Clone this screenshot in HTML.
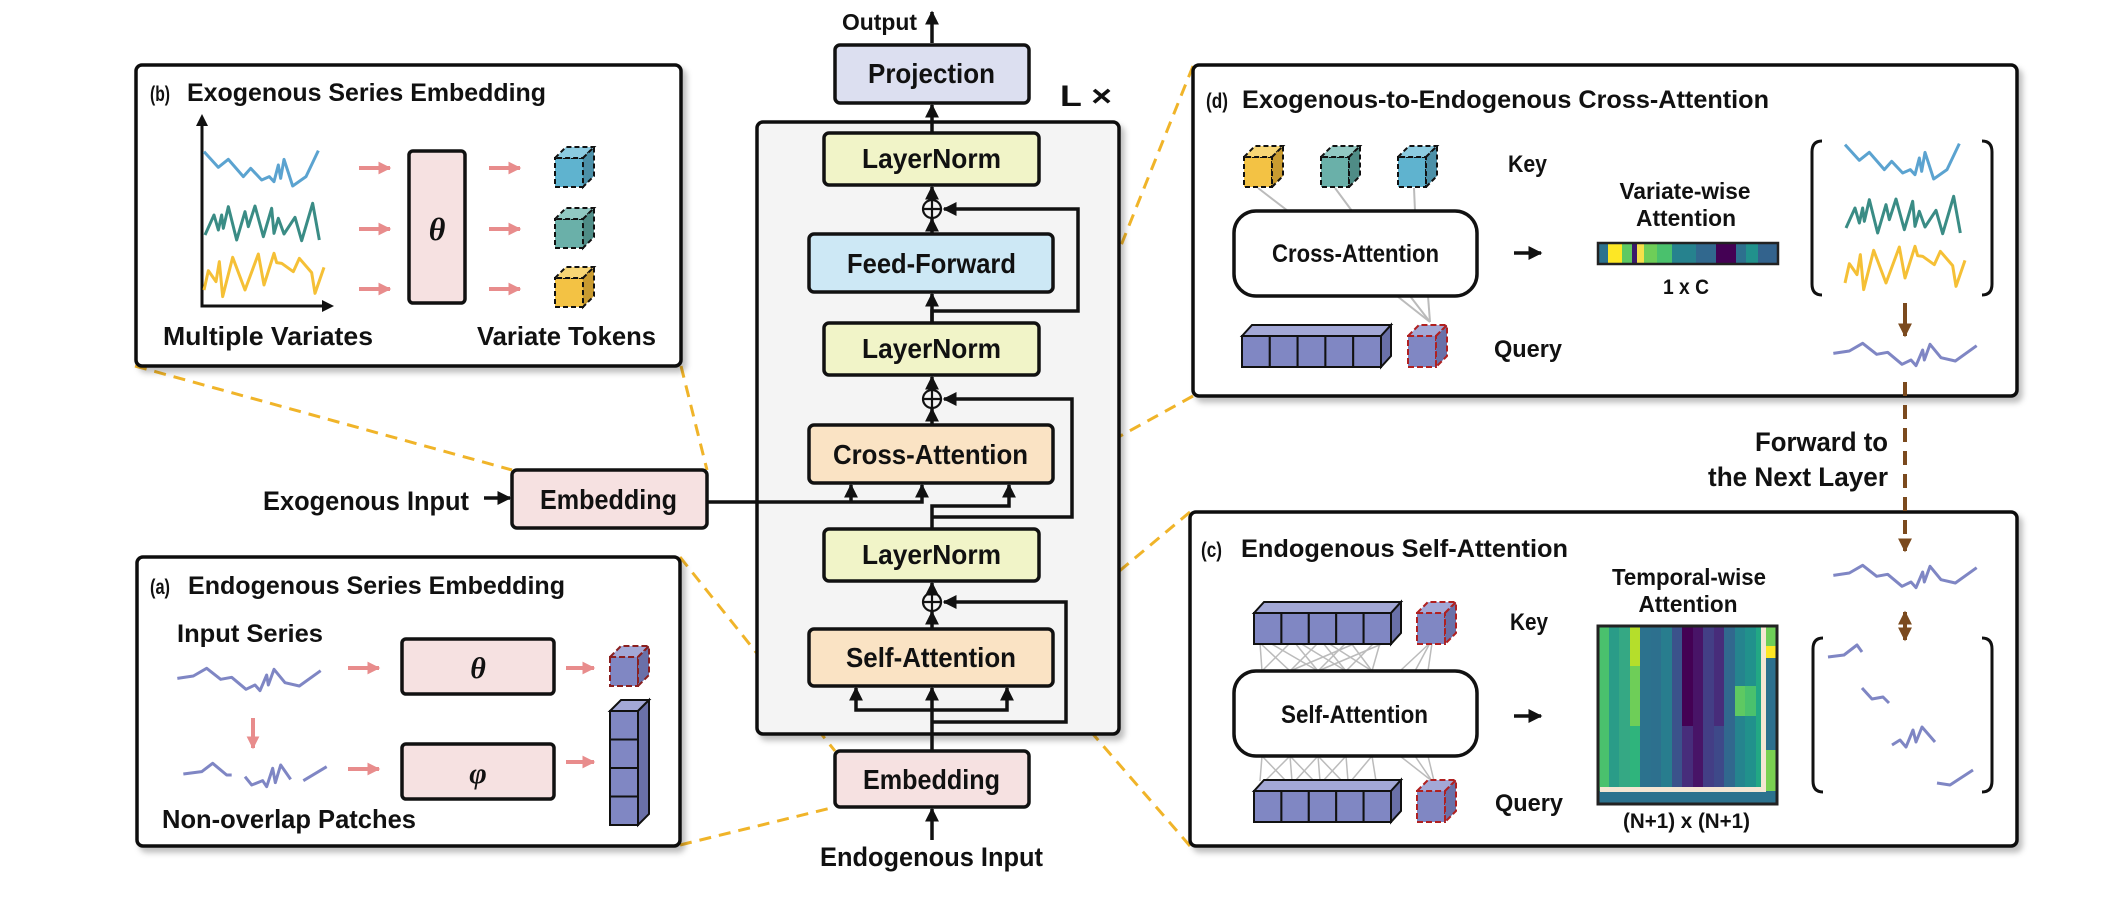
<!DOCTYPE html>
<html><head><meta charset="utf-8"><style>
html,body{margin:0;padding:0;background:#fff;}
svg{display:block;}
text{font-family:"Liberation Sans",sans-serif;font-weight:bold;fill:#111;}
</style></head><body>
<svg width="2122" height="900" viewBox="0 0 2122 900" xmlns="http://www.w3.org/2000/svg">
<defs>
<marker id="ah" viewBox="0 0 10 10" refX="9" refY="5" markerWidth="4" markerHeight="4" orient="auto-start-reverse"><path d="M0,0 L10,5 L0,10 z" fill="#111"/></marker>
<marker id="ahp" viewBox="0 0 10 10" refX="9" refY="5" markerWidth="3.2" markerHeight="3.2" orient="auto"><path d="M0,0 L10,5 L0,10 z" fill="#e88c8c"/></marker>
<marker id="ahb" viewBox="0 0 10 10" refX="9" refY="5" markerWidth="3.5" markerHeight="3.5" orient="auto-start-reverse"><path d="M0,0 L10,5 L0,10 z" fill="#7b4a1e"/></marker>
<filter id="sh" x="-5%" y="-5%" width="112%" height="115%"><feDropShadow dx="4" dy="5" stdDeviation="3" flood-color="#000" flood-opacity="0.25"/></filter>
</defs>

<!-- yellow dashed zoom lines -->
<g stroke="#f0b429" stroke-width="3" stroke-dasharray="12 8" fill="none">
<line x1="135" y1="366" x2="512" y2="470"/>
<line x1="681" y1="366" x2="707" y2="470"/>
<line x1="680" y1="557" x2="835" y2="751"/>
<line x1="680" y1="845" x2="835" y2="807"/>
<line x1="1193" y1="66" x2="1049" y2="425"/>
<line x1="1193" y1="396" x2="1053" y2="473"/>
<line x1="1190" y1="512" x2="1050" y2="629"/>
<line x1="1190" y1="846" x2="1053" y2="688"/>
</g>

<!-- Panels -->
<g filter="url(#sh)" fill="#fff" stroke="#111" stroke-width="3.5">
<rect x="136" y="65" width="545" height="301" rx="6"/>
<rect x="137" y="557" width="543" height="289" rx="6"/>
<rect x="1193" y="65" width="824" height="331" rx="6"/>
<rect x="1190" y="512" width="827" height="334" rx="6"/>
<rect x="757" y="122" width="362" height="612" rx="6" fill="#f4f4f4"/>
</g>

<!-- Main column boxes -->
<g stroke="#111" stroke-width="3.5">
<rect x="835" y="45" width="194" height="58" rx="5" fill="#dcdff0"/>
<rect x="824" y="133" width="215" height="52" rx="5" fill="#f1f4c8"/>
<rect x="809" y="234" width="244" height="58" rx="5" fill="#cde8f5"/>
<rect x="824" y="323" width="215" height="52" rx="5" fill="#f1f4c8"/>
<rect x="809" y="425" width="244" height="58" rx="5" fill="#fae3c4"/>
<rect x="824" y="529" width="215" height="52" rx="5" fill="#f1f4c8"/>
<rect x="809" y="629" width="244" height="57" rx="5" fill="#fae3c4"/>
<rect x="835" y="751" width="194" height="56" rx="5" fill="#f6e1e1"/>
<rect x="512" y="470" width="195" height="58" rx="5" fill="#f6e1e1"/>
</g>
<text x="868" y="83" font-size="28" textLength="127" lengthAdjust="spacingAndGlyphs">Projection</text>
<text x="862" y="168" font-size="28" textLength="139" lengthAdjust="spacingAndGlyphs">LayerNorm</text>
<text x="847" y="273" font-size="28" textLength="169" lengthAdjust="spacingAndGlyphs">Feed-Forward</text>
<text x="862" y="358" font-size="28" textLength="139" lengthAdjust="spacingAndGlyphs">LayerNorm</text>
<text x="833" y="464" font-size="28" textLength="195" lengthAdjust="spacingAndGlyphs">Cross-Attention</text>
<text x="862" y="564" font-size="28" textLength="139" lengthAdjust="spacingAndGlyphs">LayerNorm</text>
<text x="846" y="667" font-size="28" textLength="170" lengthAdjust="spacingAndGlyphs">Self-Attention</text>
<text x="863" y="789" font-size="28" textLength="137" lengthAdjust="spacingAndGlyphs">Embedding</text>
<text x="540" y="509" font-size="28" textLength="137" lengthAdjust="spacingAndGlyphs">Embedding</text>
<text x="842" y="30" font-size="23" textLength="75" lengthAdjust="spacingAndGlyphs">Output</text>
<text x="820" y="866" font-size="27" textLength="223" lengthAdjust="spacingAndGlyphs">Endogenous Input</text>
<text x="263" y="510" font-size="27" textLength="206" lengthAdjust="spacingAndGlyphs">Exogenous Input</text>
<text x="1060" y="106" font-size="30" textLength="52" lengthAdjust="spacingAndGlyphs">L ×</text>

<!-- Main column connectors -->
<g stroke="#111" stroke-width="3.5" fill="none">
<line x1="932" y1="43" x2="932" y2="12" marker-end="url(#ah)"/>
<line x1="932" y1="133" x2="932" y2="105" marker-end="url(#ah)"/>
<line x1="932" y1="234" x2="932" y2="219" marker-end="url(#ah)"/>
<line x1="932" y1="199" x2="932" y2="187" marker-end="url(#ah)"/>
<polyline points="932,323 932,311 1078,311 1078,209 944,209" marker-end="url(#ah)"/>
<line x1="932" y1="323" x2="932" y2="294" marker-end="url(#ah)"/>
<line x1="932" y1="425" x2="932" y2="409" marker-end="url(#ah)"/>
<line x1="932" y1="389" x2="932" y2="377" marker-end="url(#ah)"/>
<polyline points="932,529 932,506 1009,506 1009,485" marker-end="url(#ah)"/>
<polyline points="932,517 1072,517 1072,399 944,399" marker-end="url(#ah)"/>
<polyline points="707,502 922,502 922,485" marker-end="url(#ah)"/>
<line x1="851" y1="502" x2="851" y2="485" marker-end="url(#ah)"/>
<line x1="932" y1="629" x2="932" y2="612" marker-end="url(#ah)"/>
<line x1="932" y1="592" x2="932" y2="583" marker-end="url(#ah)"/>
<line x1="932" y1="751" x2="932" y2="688" marker-end="url(#ah)"/>
<polyline points="932,710 856,710 856,688" marker-end="url(#ah)"/>
<polyline points="932,710 1007,710 1007,688" marker-end="url(#ah)"/>
<polyline points="932,722 1066,722 1066,602 944,602" marker-end="url(#ah)"/>
<line x1="932" y1="840" x2="932" y2="809" marker-end="url(#ah)"/>
<line x1="484" y1="498" x2="510" y2="498" marker-end="url(#ah)"/>
</g>
<g stroke="#111" stroke-width="2.2" fill="none">
<circle cx="932" cy="209" r="9"/><line x1="923" y1="209" x2="941" y2="209"/><line x1="932" y1="200" x2="932" y2="218"/>
<circle cx="932" cy="399" r="9"/><line x1="923" y1="399" x2="941" y2="399"/><line x1="932" y1="390" x2="932" y2="408"/>
<circle cx="932" cy="602" r="9"/><line x1="923" y1="602" x2="941" y2="602"/><line x1="932" y1="593" x2="932" y2="611"/>
</g>

<!-- Panel (b) -->
<text x="150" y="101" font-size="21" font-weight="normal" textLength="20" lengthAdjust="spacingAndGlyphs">(b)</text>
<text x="187" y="101" font-size="25" textLength="359" lengthAdjust="spacingAndGlyphs">Exogenous Series Embedding</text>
<g stroke="#111" stroke-width="3" fill="none">
<polyline points="202,125 202,306 324,306"/>
</g>
<path d="M196,126 L202,114 L208,126 z" fill="#111"/>
<path d="M322,300 L334,306 L322,312 z" fill="#111"/>
<g transform="translate(130,80) scale(0.33333)" fill="none" stroke-width="9" stroke-linejoin="round">
<polyline stroke="#5ba3d0" points="222,215 265,262 295,238 340,290 362,265 395,300 418,290 432,305 445,255 452,295 462,238 488,318 528,290 565,212"/>
<polyline stroke="#3a8c85" points="225,465 252,405 265,450 275,405 280,445 295,380 320,480 345,395 355,440 375,378 400,470 425,385 432,460 445,415 462,462 495,412 515,482 548,370 568,480"/>
<polyline stroke="#f5c036" points="222,630 235,572 258,605 268,545 278,650 308,532 345,630 385,522 402,615 432,520 440,548 455,550 490,575 508,535 545,578 555,640 582,562"/>
</g>
<g stroke="#e88c8c" stroke-width="4" marker-end="url(#ahp)">
<line x1="359" y1="168" x2="390" y2="168"/><line x1="359" y1="229" x2="390" y2="229"/><line x1="359" y1="289" x2="390" y2="289"/>
<line x1="489" y1="168" x2="520" y2="168"/><line x1="489" y1="229" x2="520" y2="229"/><line x1="489" y1="289" x2="520" y2="289"/>
</g>
<rect x="409" y="151" width="56" height="152" rx="4" fill="#f6e1e1" stroke="#111" stroke-width="3.5"/>
<text x="437" y="240" font-size="32" font-style="italic" font-weight="normal" text-anchor="middle" fill="#333" style="font-family:'Liberation Serif',serif">θ</text>
<g stroke="#111" stroke-width="2" stroke-dasharray="5 3">
<g><rect x="555" y="158" width="28" height="29" fill="#5fb3cf"/><polygon points="555,158 566,147 594,147 583,158" fill="#8ccbe0"/><polygon points="583,158 594,147 594,176 583,187" fill="#4c90a8"/></g>
<g><rect x="555" y="219" width="28" height="29" fill="#6ab0a9"/><polygon points="555,219 566,208 594,208 583,219" fill="#92c8c2"/><polygon points="583,219 594,208 594,237 583,248" fill="#4f8c86"/></g>
<g><rect x="555" y="278" width="28" height="29" fill="#f3c244"/><polygon points="555,278 566,267 594,267 583,278" fill="#f7d676"/><polygon points="583,278 594,267 594,296 583,307" fill="#c99b30"/></g>
</g>
<text x="163" y="345" font-size="26" textLength="210" lengthAdjust="spacingAndGlyphs">Multiple Variates</text>
<text x="477" y="345" font-size="26" textLength="179" lengthAdjust="spacingAndGlyphs">Variate Tokens</text>

<!-- Panel (a) -->
<text x="150" y="594" font-size="21" font-weight="normal" textLength="20" lengthAdjust="spacingAndGlyphs">(a)</text>
<text x="188" y="594" font-size="25" textLength="377" lengthAdjust="spacingAndGlyphs">Endogenous Series Embedding</text>
<text x="177" y="642" font-size="25" textLength="146" lengthAdjust="spacingAndGlyphs">Input Series</text>
<text x="162" y="828" font-size="26" textLength="254" lengthAdjust="spacingAndGlyphs">Non-overlap Patches</text>
<g transform="translate(130,560) scale(0.33333)" fill="none" stroke="#7f86c4" stroke-width="9" stroke-linejoin="round">
<polyline points="142,355 190,348 230,325 272,358 305,352 348,388 375,375 390,392 410,345 415,375 432,328 465,368 508,378 572,332"/>
<polyline points="160,642 215,635 248,610 290,645 305,645"/>
<polyline points="345,650 365,675 398,662 410,680 428,625 436,668 452,615 482,658"/>
<polyline points="520,662 590,620"/>
</g>
<g stroke="#e88c8c" stroke-width="4" marker-end="url(#ahp)">
<line x1="348" y1="668" x2="379" y2="668"/><line x1="348" y1="769" x2="379" y2="769"/>
<line x1="253" y1="718" x2="253" y2="748"/>
<line x1="566" y1="668" x2="594" y2="668"/><line x1="566" y1="762" x2="594" y2="762"/>
</g>
<rect x="402" y="639" width="152" height="55" rx="4" fill="#f6e1e1" stroke="#111" stroke-width="3.5"/>
<rect x="402" y="744" width="152" height="55" rx="4" fill="#f6e1e1" stroke="#111" stroke-width="3.5"/>
<text x="478" y="678" font-size="30" font-style="italic" font-weight="normal" text-anchor="middle" fill="#333" style="font-family:'Liberation Serif',serif">θ</text>
<text x="478" y="783" font-size="30" font-style="italic" font-weight="normal" text-anchor="middle" fill="#333" style="font-family:'Liberation Serif',serif">φ</text>
<g stroke="#8a1f1f" stroke-width="2" stroke-dasharray="6 3">
<rect x="610" y="657" width="28" height="29" fill="#8087c3"/><polygon points="610,657 621,646 649,646 638,657" fill="#a3a8d6"/><polygon points="638,657 649,646 649,675 638,686" fill="#6a70a8"/>
</g>
<g stroke="#111" stroke-width="2">
<polygon points="610,711 621,700 649,700 638,711" fill="#a3a8d6"/>
<polygon points="638,711 649,700 649,814 638,825" fill="#6a70a8"/>
<rect x="610" y="711" width="28" height="28.5" fill="#8087c3"/>
<rect x="610" y="739.5" width="28" height="28.5" fill="#8087c3"/>
<rect x="610" y="768" width="28" height="28.5" fill="#8087c3"/>
<rect x="610" y="796.5" width="28" height="28.5" fill="#8087c3"/>
</g>

<!-- Panel (d) -->
<text x="1206" y="108" font-size="21" font-weight="normal" textLength="22" lengthAdjust="spacingAndGlyphs">(d)</text>
<text x="1242" y="108" font-size="25" textLength="527" lengthAdjust="spacingAndGlyphs">Exogenous-to-Endogenous Cross-Attention</text>
<g stroke="#bbb" stroke-width="2">
<line x1="1258" y1="188" x2="1288" y2="211"/><line x1="1335" y1="188" x2="1352" y2="211"/><line x1="1414" y1="188" x2="1415" y2="211"/>
<line x1="1397" y1="296" x2="1430" y2="322"/><line x1="1428" y1="296" x2="1430" y2="322"/><line x1="1410" y1="296" x2="1430" y2="322"/>
</g>
<g stroke="#111" stroke-width="2" stroke-dasharray="5 3">
<g><rect x="1244" y="157" width="28" height="30" fill="#f3c244"/><polygon points="1244,157 1255,146 1283,146 1272,157" fill="#f7d676"/><polygon points="1272,157 1283,146 1283,176 1272,187" fill="#c99b30"/></g>
<g><rect x="1321" y="157" width="28" height="30" fill="#6ab0a9"/><polygon points="1321,157 1332,146 1360,146 1349,157" fill="#92c8c2"/><polygon points="1349,157 1360,146 1360,176 1349,187" fill="#4f8c86"/></g>
<g><rect x="1398" y="157" width="28" height="30" fill="#5fb3cf"/><polygon points="1398,157 1409,146 1437,146 1426,157" fill="#8ccbe0"/><polygon points="1426,157 1437,146 1437,176 1426,187" fill="#4c90a8"/></g>
</g>
<rect x="1234" y="211" width="243" height="85" rx="22" fill="#fff" stroke="#111" stroke-width="3.5"/>
<text x="1272" y="262" font-size="25" textLength="167" lengthAdjust="spacingAndGlyphs" fill="#1a2233">Cross-Attention</text>
<g stroke="#111" stroke-width="2">
<polygon points="1242,336 1252,325 1391,325 1381,336" fill="#a3a8d6"/>
<polygon points="1381,336 1391,325 1391,356 1381,367" fill="#6a70a8"/>
<rect x="1242" y="336" width="27.8" height="31" fill="#8087c3"/><rect x="1269.8" y="336" width="27.8" height="31" fill="#8087c3"/><rect x="1297.6" y="336" width="27.8" height="31" fill="#8087c3"/><rect x="1325.4" y="336" width="27.8" height="31" fill="#8087c3"/><rect x="1353.2" y="336" width="27.8" height="31" fill="#8087c3"/>
</g>
<g stroke="#b02020" stroke-width="2" stroke-dasharray="6 3">
<rect x="1408" y="336" width="28" height="31" fill="#8087c3"/><polygon points="1408,336 1419,325 1447,325 1436,336" fill="#a3a8d6"/><polygon points="1436,336 1447,325 1447,356 1436,367" fill="#6a70a8"/>
</g>
<text x="1508" y="172" font-size="24" textLength="39" lengthAdjust="spacingAndGlyphs">Key</text>
<text x="1494" y="357" font-size="24" textLength="68" lengthAdjust="spacingAndGlyphs">Query</text>
<line x1="1514" y1="253" x2="1541" y2="253" stroke="#111" stroke-width="3.5" marker-end="url(#ah)"/>
<text x="1685" y="199" font-size="23" text-anchor="middle" fill="#b22222" textLength="131" lengthAdjust="spacingAndGlyphs">Variate-wise</text>
<text x="1686" y="226" font-size="23" text-anchor="middle" fill="#b22222" textLength="100" lengthAdjust="spacingAndGlyphs">Attention</text>
<g>
<rect x="1598" y="243" width="180" height="21" fill="#2a788e"/>
<rect x="1598" y="243" width="10" height="21" fill="#2c728e"/>
<rect x="1608" y="243" width="14" height="21" fill="#fde725"/>
<rect x="1622" y="243" width="10" height="21" fill="#5ec962"/>
<rect x="1632" y="243" width="5" height="21" fill="#3b1a6b"/>
<rect x="1637" y="243" width="7" height="21" fill="#f6e04a"/>
<rect x="1644" y="243" width="13" height="21" fill="#6ece58"/>
<rect x="1657" y="243" width="15" height="21" fill="#4ac16d"/>
<rect x="1672" y="243" width="24" height="21" fill="#26828e"/>
<rect x="1696" y="243" width="20" height="21" fill="#31688e"/>
<rect x="1716" y="243" width="20" height="21" fill="#440154"/>
<rect x="1736" y="243" width="10" height="21" fill="#2d708e"/>
<rect x="1746" y="243" width="12" height="21" fill="#21918c"/>
<rect x="1758" y="243" width="20" height="21" fill="#33638d"/>
<rect x="1598" y="243" width="180" height="21" fill="none" stroke="#222" stroke-width="2.5"/>
</g>
<text x="1663" y="294" font-size="21" textLength="46" lengthAdjust="spacingAndGlyphs">1 x C</text>
<g fill="none" stroke="#111" stroke-width="3">
<path d="M1822,141 Q1812,141 1812,152 L1812,284 Q1812,295 1822,295"/>
<path d="M1982,141 Q1992,141 1992,152 L1992,284 Q1992,295 1982,295"/>
</g>
<g transform="translate(1771,73) scale(0.33333)" fill="none" stroke-width="9" stroke-linejoin="round">
<polyline stroke="#5ba3d0" points="222,215 265,262 295,238 340,290 362,265 395,300 418,290 432,305 445,255 452,295 462,238 488,318 528,290 565,212"/>
<polyline stroke="#3a8c85" points="225,465 252,405 265,450 275,405 280,445 295,380 320,480 345,395 355,440 375,378 400,470 425,385 432,460 445,415 462,462 495,412 515,482 548,370 568,480"/>
<polyline stroke="#f5c036" points="222,630 235,572 258,605 268,545 278,650 308,532 345,630 385,522 402,615 432,520 440,548 455,550 490,575 508,535 545,578 555,640 582,562"/>
</g>
<line x1="1905" y1="303" x2="1905" y2="336" stroke="#7b4a1e" stroke-width="4" marker-end="url(#ahb)"/>
<g transform="translate(1786,235) scale(0.33333)" fill="none" stroke="#7f86c4" stroke-width="9" stroke-linejoin="round">
<polyline points="142,355 190,348 230,325 272,358 305,352 348,388 375,375 390,392 410,345 415,375 432,328 465,368 508,378 572,332"/>
</g>
<line x1="1905" y1="382" x2="1905" y2="551" stroke="#7b4a1e" stroke-width="4" stroke-dasharray="14 9" marker-end="url(#ahb)"/>
<text x="1888" y="451" font-size="27" text-anchor="end" fill="#7b4a1e" textLength="133" lengthAdjust="spacingAndGlyphs">Forward to</text>
<text x="1888" y="486" font-size="27" text-anchor="end" fill="#7b4a1e" textLength="180" lengthAdjust="spacingAndGlyphs">the Next Layer</text>

<!-- Panel (c) -->
<text x="1201" y="557" font-size="21" font-weight="normal" textLength="21" lengthAdjust="spacingAndGlyphs">(c)</text>
<text x="1241" y="557" font-size="25" textLength="327" lengthAdjust="spacingAndGlyphs">Endogenous Self-Attention</text>
<g stroke="#bbb" stroke-width="1.5">
<line x1="1260" y1="643" x2="1262" y2="671"/><line x1="1260" y1="643" x2="1290" y2="671"/><line x1="1270" y1="643" x2="1318" y2="671"/>
<line x1="1290" y1="643" x2="1262" y2="671"/><line x1="1295" y1="643" x2="1318" y2="671"/><line x1="1300" y1="643" x2="1346" y2="671"/>
<line x1="1318" y1="643" x2="1290" y2="671"/><line x1="1323" y1="643" x2="1346" y2="671"/><line x1="1328" y1="643" x2="1372" y2="671"/>
<line x1="1346" y1="643" x2="1318" y2="671"/><line x1="1351" y1="643" x2="1372" y2="671"/><line x1="1356" y1="643" x2="1290" y2="671"/>
<line x1="1374" y1="643" x2="1346" y2="671"/><line x1="1380" y1="643" x2="1372" y2="671"/><line x1="1384" y1="643" x2="1318" y2="671"/>
<line x1="1430" y1="643" x2="1400" y2="671"/><line x1="1430" y1="643" x2="1415" y2="671"/><line x1="1432" y1="643" x2="1428" y2="671"/>
<line x1="1262" y1="756" x2="1260" y2="781"/><line x1="1290" y1="756" x2="1265" y2="781"/><line x1="1290" y1="756" x2="1292" y2="781"/>
<line x1="1318" y1="756" x2="1295" y2="781"/><line x1="1318" y1="756" x2="1320" y2="781"/><line x1="1346" y1="756" x2="1323" y2="781"/>
<line x1="1346" y1="756" x2="1348" y2="781"/><line x1="1372" y1="756" x2="1351" y2="781"/><line x1="1372" y1="756" x2="1376" y2="781"/>
<line x1="1262" y1="756" x2="1286" y2="781"/><line x1="1290" y1="756" x2="1314" y2="781"/><line x1="1318" y1="756" x2="1342" y2="781"/>
<line x1="1400" y1="756" x2="1432" y2="781"/><line x1="1415" y1="756" x2="1432" y2="781"/><line x1="1428" y1="756" x2="1434" y2="781"/>
</g>
<g stroke="#111" stroke-width="2">
<polygon points="1254,613 1264,602 1401,602 1391,613" fill="#a3a8d6"/>
<polygon points="1391,613 1401,602 1401,633 1391,644" fill="#6a70a8"/>
<rect x="1254" y="613" width="27.4" height="31" fill="#8087c3"/><rect x="1281.4" y="613" width="27.4" height="31" fill="#8087c3"/><rect x="1308.8" y="613" width="27.4" height="31" fill="#8087c3"/><rect x="1336.2" y="613" width="27.4" height="31" fill="#8087c3"/><rect x="1363.6" y="613" width="27.4" height="31" fill="#8087c3"/>
<polygon points="1254,791 1264,780 1401,780 1391,791" fill="#a3a8d6"/>
<polygon points="1391,791 1401,780 1401,811 1391,822" fill="#6a70a8"/>
<rect x="1254" y="791" width="27.4" height="31" fill="#8087c3"/><rect x="1281.4" y="791" width="27.4" height="31" fill="#8087c3"/><rect x="1308.8" y="791" width="27.4" height="31" fill="#8087c3"/><rect x="1336.2" y="791" width="27.4" height="31" fill="#8087c3"/><rect x="1363.6" y="791" width="27.4" height="31" fill="#8087c3"/>
</g>
<g stroke="#b02020" stroke-width="2" stroke-dasharray="6 3">
<rect x="1417" y="613" width="28" height="31" fill="#8087c3"/><polygon points="1417,613 1428,602 1456,602 1445,613" fill="#a3a8d6"/><polygon points="1445,613 1456,602 1456,633 1445,644" fill="#6a70a8"/>
<rect x="1417" y="791" width="28" height="31" fill="#8087c3"/><polygon points="1417,791 1428,780 1456,780 1445,791" fill="#a3a8d6"/><polygon points="1445,791 1456,780 1456,811 1445,822" fill="#6a70a8"/>
</g>
<rect x="1234" y="671" width="243" height="85" rx="22" fill="#fff" stroke="#111" stroke-width="3.5"/>
<text x="1281" y="723" font-size="25" textLength="147" lengthAdjust="spacingAndGlyphs" fill="#1a2233">Self-Attention</text>
<text x="1510" y="630" font-size="24" textLength="38" lengthAdjust="spacingAndGlyphs">Key</text>
<text x="1495" y="811" font-size="24" textLength="68" lengthAdjust="spacingAndGlyphs">Query</text>
<line x1="1514" y1="716" x2="1541" y2="716" stroke="#111" stroke-width="3.5" marker-end="url(#ah)"/>
<text x="1689" y="585" font-size="23" text-anchor="middle" fill="#b22222" textLength="154" lengthAdjust="spacingAndGlyphs">Temporal-wise</text>
<text x="1688" y="612" font-size="23" text-anchor="middle" fill="#b22222" textLength="99" lengthAdjust="spacingAndGlyphs">Attention</text>
<!-- heatmap -->
<g>
<rect x="1598" y="626" width="179" height="178" fill="#26828e"/>
<rect x="1598" y="626" width="11" height="178" fill="#4ac16d"/>
<rect x="1609" y="626" width="10" height="178" fill="#2a9c88"/>
<rect x="1619" y="626" width="11" height="178" fill="#35a884"/>
<rect x="1630" y="626" width="10" height="40" fill="#b5de2b"/>
<rect x="1630" y="666" width="10" height="60" fill="#6ece58"/>
<rect x="1630" y="726" width="10" height="78" fill="#2fb47c"/>
<rect x="1640" y="626" width="11" height="178" fill="#2c728e"/>
<rect x="1651" y="626" width="10" height="178" fill="#2d708e"/>
<rect x="1661" y="626" width="11" height="178" fill="#287d8e"/>
<rect x="1672" y="626" width="10" height="178" fill="#3b528b"/>
<rect x="1682" y="626" width="11" height="100" fill="#440154"/>
<rect x="1682" y="726" width="11" height="78" fill="#472d7b"/>
<rect x="1693" y="626" width="10" height="178" fill="#481467"/>
<rect x="1703" y="626" width="11" height="178" fill="#433e85"/>
<rect x="1714" y="626" width="10" height="100" fill="#472c7a"/>
<rect x="1714" y="726" width="10" height="78" fill="#3e4989"/>
<rect x="1724" y="626" width="11" height="178" fill="#31688e"/>
<rect x="1735" y="626" width="10" height="178" fill="#25848e"/>
<rect x="1735" y="686" width="10" height="30" fill="#5ec962"/>
<rect x="1745" y="626" width="11" height="178" fill="#21918c"/>
<rect x="1745" y="686" width="11" height="30" fill="#4ac16d"/>
<rect x="1756" y="626" width="10" height="178" fill="#22a884"/>
<rect x="1766" y="626" width="11" height="178" fill="#2d708e"/>
<rect x="1766" y="626" width="11" height="20" fill="#6ece58"/>
<rect x="1766" y="646" width="11" height="12" fill="#fde725"/>
<rect x="1766" y="750" width="11" height="54" fill="#7ad151"/>
<rect x="1598" y="791" width="179" height="13" fill="#2c728e"/>
<rect x="1600" y="787" width="165" height="5" fill="#f5e6d3"/>
<rect x="1761" y="627" width="5" height="165" fill="#f5e6d3"/>
<rect x="1598" y="626" width="179" height="178" fill="none" stroke="#222" stroke-width="3"/>
</g>
<text x="1623" y="828" font-size="21" textLength="127" lengthAdjust="spacingAndGlyphs">(N+1) x (N+1)</text>
<g transform="translate(1786,457) scale(0.33333)" fill="none" stroke="#7f86c4" stroke-width="9" stroke-linejoin="round">
<polyline points="142,355 190,348 230,325 272,358 305,352 348,388 375,375 390,392 410,345 415,375 432,328 465,368 508,378 572,332"/>
</g>
<line x1="1905" y1="612" x2="1905" y2="640" stroke="#7b4a1e" stroke-width="4" marker-start="url(#ahb)" marker-end="url(#ahb)"/>
<g fill="none" stroke="#111" stroke-width="3">
<path d="M1823,638 Q1813,638 1813,649 L1813,781 Q1813,792 1823,792"/>
<path d="M1982,638 Q1992,638 1992,649 L1992,781 Q1992,792 1982,792"/>
</g>
<g fill="none" stroke="#7f86c4" stroke-width="3" stroke-linejoin="round">
<polyline points="1828,657 1844,655 1857,645 1862,652"/>
<polyline points="1862,688 1872,699 1883,697 1889,703"/>
<polyline points="1892,745 1900,740 1906,747 1913,730 1916,742 1922,727 1935,742"/>
<polyline points="1937,783 1950,785 1973,770"/>
</g>
</svg>
</body></html>
